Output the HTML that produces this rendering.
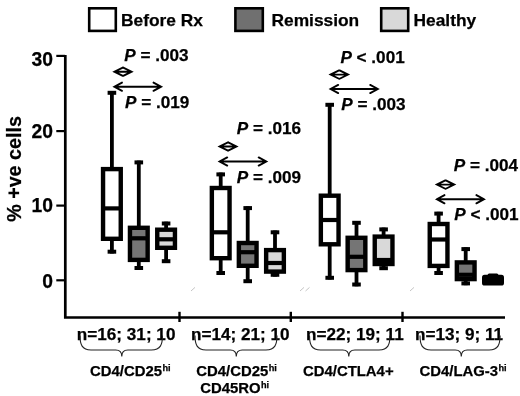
<!DOCTYPE html>
<html><head><meta charset="utf-8"><title>Box plot</title>
<style>
html,body{margin:0;padding:0;background:#fff;}
body{width:520px;height:396px;overflow:hidden;}
svg{display:block;}
text{font-family:"Liberation Sans",Arial,sans-serif;font-weight:bold;fill:#000;stroke:#000;stroke-width:0.25px;}
.leg{font-size:17.35px;}
.ax{font-size:19.3px;}
.p{font-size:17.15px;}
.n{font-size:17.15px;}
.lab{font-size:14.9px;}
.sup{font-size:9.2px;}
.box{stroke:#000;stroke-width:4.4;}
.w{stroke:#000;stroke-width:3.8;fill:none;}
.cap{stroke:#000;stroke-width:4;fill:none;}
.med{stroke:#000;stroke-width:4.2;}
.arr{stroke:#000;stroke-width:1.9;fill:none;stroke-linecap:round;stroke-linejoin:miter;}
.br{stroke:#222;stroke-width:1.1;fill:none;}
</style></head><body>
<svg width="520" height="396" viewBox="0 0 520 396">
<defs><filter id="soft" x="0" y="0" width="520" height="396" filterUnits="userSpaceOnUse"><feGaussianBlur stdDeviation="0.5"/></filter></defs>
<rect width="520" height="396" fill="#fff"/>
<g filter="url(#soft)">

<rect x="89.2" y="8.3" width="26.6" height="22.6" fill="#fff" stroke="#000" stroke-width="2.6"/>
<text class="leg" x="121" y="25.8">Before Rx</text>
<rect x="235.4" y="8.3" width="27.4" height="22.6" fill="#707070" stroke="#000" stroke-width="2.6"/>
<text class="leg" x="271.5" y="25.8">Remission</text>
<rect x="381.2" y="8.3" width="27" height="22.6" fill="#d9d9d9" stroke="#000" stroke-width="2.6"/>
<text class="leg" x="413.5" y="25.8">Healthy</text>
<path d="M65.3 54.9 V317.5 H505" fill="none" stroke="#000" stroke-width="2.7"/>
<line x1="56.3" y1="55.9" x2="65" y2="55.9" stroke="#000" stroke-width="2.2"/>
<text class="ax" x="53" y="65.7" text-anchor="end">30</text>
<line x1="56.3" y1="131.1" x2="65" y2="131.1" stroke="#000" stroke-width="2.2"/>
<text class="ax" x="53" y="137.7" text-anchor="end">20</text>
<line x1="56.3" y1="205.6" x2="65" y2="205.6" stroke="#000" stroke-width="2.2"/>
<text class="ax" x="53" y="212.2" text-anchor="end">10</text>
<line x1="56.3" y1="280.3" x2="65" y2="280.3" stroke="#000" stroke-width="2.2"/>
<text class="ax" x="53" y="287.6" text-anchor="end">0</text>
<line x1="179.5" y1="311.8" x2="179.5" y2="322" stroke="#000" stroke-width="2.4"/>
<line x1="290.8" y1="311.8" x2="290.8" y2="322" stroke="#000" stroke-width="2.4"/>
<line x1="402.5" y1="311.8" x2="402.5" y2="322" stroke="#000" stroke-width="2.4"/>
<text transform="translate(20.7 221.8) rotate(-90)" font-size="19.7px">% +ve cells</text>
<line class="w" x1="111.9" y1="91" x2="111.9" y2="253.5"/>
<line class="cap" x1="107.60000000000001" y1="92.8" x2="116.2" y2="92.8"/>
<line class="cap" x1="107.60000000000001" y1="251.7" x2="116.2" y2="251.7"/>
<rect class="box" x="103.05000000000001" y="169.1" width="17.7" height="69.7" fill="#fff"/>
<line class="med" x1="103.05000000000001" y1="208.4" x2="120.75" y2="208.4"/>
<line class="w" x1="138.8" y1="160.6" x2="138.8" y2="269.8"/>
<line class="cap" x1="134.5" y1="162.4" x2="143.10000000000002" y2="162.4"/>
<line class="cap" x1="134.5" y1="268.0" x2="143.10000000000002" y2="268.0"/>
<rect class="box" x="129.95000000000002" y="227.79999999999998" width="17.7" height="32.1" fill="#747474"/>
<line class="med" x1="129.95000000000002" y1="238.3" x2="147.65" y2="238.3"/>
<line class="w" x1="166.1" y1="221.7" x2="166.1" y2="263"/>
<line class="cap" x1="161.79999999999998" y1="223.5" x2="170.4" y2="223.5"/>
<line class="cap" x1="161.79999999999998" y1="261.2" x2="170.4" y2="261.2"/>
<rect class="box" x="157.25" y="229.7" width="17.7" height="18.1" fill="#d9d9d9"/>
<line class="med" x1="157.25" y1="239.3" x2="174.95" y2="239.3"/>
<line class="w" x1="220.7" y1="172.6" x2="220.7" y2="274.8"/>
<line class="cap" x1="216.39999999999998" y1="174.4" x2="225.0" y2="174.4"/>
<line class="cap" x1="216.39999999999998" y1="273.0" x2="225.0" y2="273.0"/>
<rect class="box" x="211.85" y="188.0" width="17.7" height="70.2" fill="#fff"/>
<line class="med" x1="211.85" y1="232.3" x2="229.54999999999998" y2="232.3"/>
<line class="w" x1="247.7" y1="206.3" x2="247.7" y2="283"/>
<line class="cap" x1="243.39999999999998" y1="208.10000000000002" x2="252.0" y2="208.10000000000002"/>
<line class="cap" x1="243.39999999999998" y1="281.2" x2="252.0" y2="281.2"/>
<rect class="box" x="238.85" y="243.0" width="17.7" height="22.8" fill="#747474"/>
<line class="med" x1="238.85" y1="252.2" x2="256.55" y2="252.2"/>
<line class="w" x1="275" y1="230.5" x2="275" y2="276.6"/>
<line class="cap" x1="270.7" y1="232.3" x2="279.3" y2="232.3"/>
<line class="cap" x1="270.7" y1="274.8" x2="279.3" y2="274.8"/>
<rect class="box" x="266.15" y="250.1" width="17.7" height="21.5" fill="#d9d9d9"/>
<line class="med" x1="266.15" y1="263" x2="283.85" y2="263"/>
<line class="w" x1="329.7" y1="103" x2="329.7" y2="279.6"/>
<line class="cap" x1="325.4" y1="104.8" x2="334.0" y2="104.8"/>
<line class="cap" x1="325.4" y1="277.8" x2="334.0" y2="277.8"/>
<rect class="box" x="320.84999999999997" y="195.7" width="17.7" height="48.6" fill="#fff"/>
<line class="med" x1="320.84999999999997" y1="220" x2="338.55" y2="220"/>
<line class="w" x1="356.5" y1="221" x2="356.5" y2="286.3"/>
<line class="cap" x1="352.2" y1="222.8" x2="360.8" y2="222.8"/>
<line class="cap" x1="352.2" y1="284.5" x2="360.8" y2="284.5"/>
<rect class="box" x="347.65" y="237.79999999999998" width="17.7" height="32.3" fill="#747474"/>
<line class="med" x1="347.65" y1="256.8" x2="365.35" y2="256.8"/>
<line class="w" x1="383.6" y1="227.6" x2="383.6" y2="270"/>
<line class="cap" x1="379.3" y1="229.4" x2="387.90000000000003" y2="229.4"/>
<line class="cap" x1="379.3" y1="268.2" x2="387.90000000000003" y2="268.2"/>
<rect class="box" x="374.75" y="236.6" width="17.7" height="27.4" fill="#d9d9d9"/>
<line class="med" x1="374.75" y1="260" x2="392.45000000000005" y2="260"/>
<line class="w" x1="438.6" y1="211.8" x2="438.6" y2="274.8"/>
<line class="cap" x1="434.3" y1="213.60000000000002" x2="442.90000000000003" y2="213.60000000000002"/>
<line class="cap" x1="434.3" y1="273.0" x2="442.90000000000003" y2="273.0"/>
<rect class="box" x="429.75" y="224.0" width="17.7" height="41.9" fill="#fff"/>
<line class="med" x1="429.75" y1="239.5" x2="447.45000000000005" y2="239.5"/>
<line class="w" x1="465.7" y1="247.3" x2="465.7" y2="285.2"/>
<line class="cap" x1="461.4" y1="249.10000000000002" x2="470.0" y2="249.10000000000002"/>
<line class="cap" x1="461.4" y1="283.4" x2="470.0" y2="283.4"/>
<rect class="box" x="456.84999999999997" y="262.4" width="17.7" height="16.7" fill="#747474"/>
<line class="med" x1="456.84999999999997" y1="274.8" x2="474.55" y2="274.8"/>
<rect x="482" y="274.8" width="22" height="10.8" rx="2.6" fill="#000"/>
<rect x="487.6" y="273.4" width="10.8" height="4" rx="1.5" fill="#000"/>
<text class="p" x="124.3" y="60.8"><tspan font-style="italic">P</tspan> = .003</text>
<path class="arr" d="M114.4 71.7 H131.6 M122.80000000000001 67.55 L114.4 71.7 L122.80000000000001 75.85000000000001 M123.19999999999999 67.55 L131.6 71.7 L123.19999999999999 75.85000000000001"/>
<path class="arr" d="M114.4 86.7 H161.1 M122.0 82.60000000000001 L114.4 86.7 L122.0 90.8 M153.5 82.60000000000001 L161.1 86.7 L153.5 90.8"/>
<text class="p" x="125" y="108.3"><tspan font-style="italic">P</tspan> = .019</text>
<text class="p" x="236.7" y="134"><tspan font-style="italic">P</tspan> = .016</text>
<path class="arr" d="M219.6 146.5 H236.5 M228.0 142.35 L219.6 146.5 L228.0 150.65 M228.1 142.35 L236.5 146.5 L228.1 150.65"/>
<path class="arr" d="M219.6 161.5 H266.3 M227.2 157.4 L219.6 161.5 L227.2 165.6 M258.7 157.4 L266.3 161.5 L258.7 165.6"/>
<text class="p" x="236.7" y="182.8"><tspan font-style="italic">P</tspan> = .009</text>
<text class="p" x="340.4" y="63"><tspan font-style="italic">P</tspan> &lt; .001</text>
<path class="arr" d="M330.59999999999997 74.6 H348.0 M338.99999999999994 70.44999999999999 L330.59999999999997 74.6 L338.99999999999994 78.75 M339.6 70.44999999999999 L348.0 74.6 L339.6 78.75"/>
<path class="arr" d="M330.59999999999997 89 H377.8 M338.2 84.9 L330.59999999999997 89 L338.2 93.1 M370.2 84.9 L377.8 89 L370.2 93.1"/>
<text class="p" x="341.2" y="110.2"><tspan font-style="italic">P</tspan> = .003</text>
<text class="p" x="453.7" y="171.3"><tspan font-style="italic">P</tspan> = .004</text>
<path class="arr" d="M436.9 184.6 H454.20000000000005 M445.29999999999995 180.45 L436.9 184.6 L445.29999999999995 188.75 M445.80000000000007 180.45 L454.20000000000005 184.6 L445.80000000000007 188.75"/>
<path class="arr" d="M436.9 199.2 H484.0 M444.5 195.1 L436.9 199.2 L444.5 203.29999999999998 M476.4 195.1 L484.0 199.2 L476.4 203.29999999999998"/>
<text class="p" x="454.2" y="220.2"><tspan font-style="italic">P</tspan> &lt; .001</text>
<text class="n" x="76.8" y="340.3">n=16; 31; 10</text>
<text class="n" x="191" y="340.3">n=14; 21; 10</text>
<text class="n" x="306" y="340.3">n=22; 19; 11</text>
<text class="n" x="415" y="340.3">n=13; 9; 11</text>
<path class="br" d="M80 335.5 C80 344.5 82 350 91 350 H115.8 C119.8 350 121.8 352 121.8 356.5 C121.8 352 123.8 350 127.8 350 H151.5 C160.5 350 162.5 344.5 162.5 335.5"/>
<path class="br" d="M195 335.5 C195 344.5 197 350 206 350 H230.3 C234.3 350 236.3 352 236.3 356.5 C236.3 352 238.3 350 242.3 350 H266 C275 350 277 344.5 277 335.5"/>
<path class="br" d="M309.5 335.5 C309.5 344.5 311.5 350 320.5 350 H342.8 C346.8 350 348.8 352 348.8 356.5 C348.8 352 350.8 350 354.8 350 H379 C388 350 390 344.5 390 335.5"/>
<path class="br" d="M420 335.5 C420 344.5 422 350 431 350 H455.3 C459.3 350 461.3 352 461.3 356.5 C461.3 352 463.3 350 467.3 350 H489.1 C498.1 350 500.1 344.5 500.1 335.5"/>
<text class="lab" x="90" y="375.5">CD4/CD25<tspan class="sup" dx="0.4" dy="-4.9">hi</tspan></text>
<text class="lab" x="196.3" y="375.5">CD4/CD25<tspan class="sup" dx="0.4" dy="-4.9">hi</tspan></text>
<text class="lab" x="200.2" y="393">CD45RO<tspan class="sup" dx="0.4" dy="-4.9">hi</tspan></text>
<text class="lab" x="303" y="375.5">CD4/CTLA4+</text>
<text class="lab" x="419.5" y="375.5">CD4/LAG-3<tspan class="sup" dx="0.4" dy="-4.9">hi</tspan></text>
<line x1="191" y1="291" x2="195" y2="287.4" stroke="#c4c4c4" stroke-width="1"/>
<line x1="300" y1="291" x2="304" y2="287.4" stroke="#c4c4c4" stroke-width="1"/>
<line x1="305.5" y1="291" x2="309.5" y2="287.4" stroke="#c4c4c4" stroke-width="1"/>
<line x1="410" y1="291" x2="414" y2="287.4" stroke="#c4c4c4" stroke-width="1"/>
</g></svg></body></html>
